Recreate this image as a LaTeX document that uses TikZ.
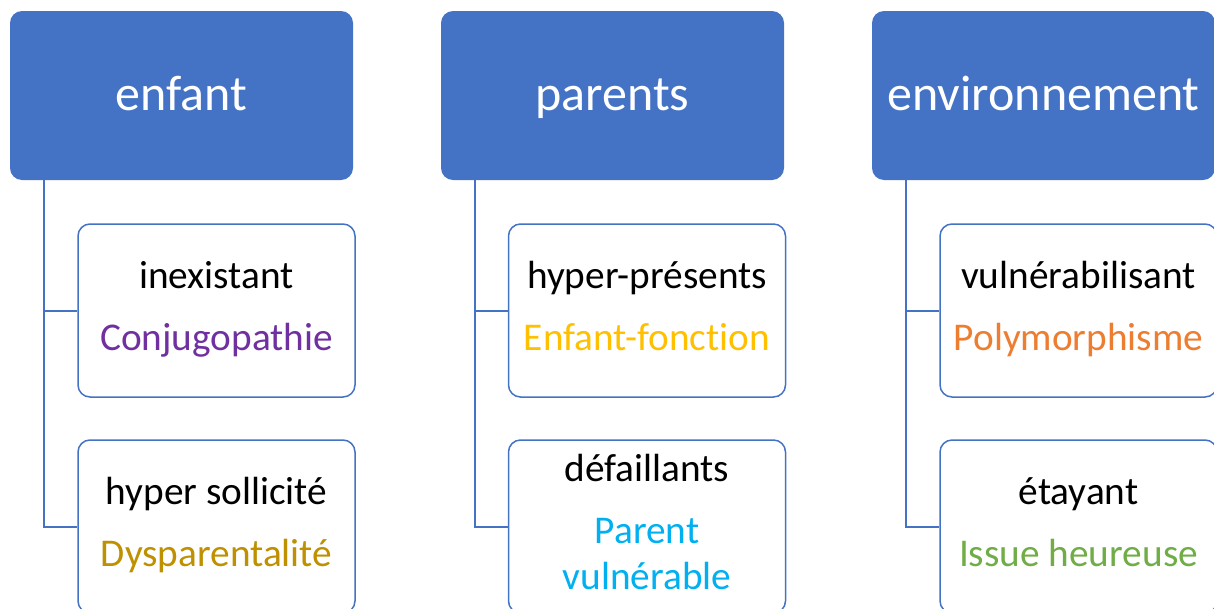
\documentclass[tikz,border=0pt]{standalone}
\usepackage{fontspec}
\setmainfont{Carlito}[Ligatures=NoCommon]
\definecolor{hdr}{HTML}{4472C4}
\definecolor{cpurple}{HTML}{7030A0}
\definecolor{cgold}{HTML}{BF9000}
\definecolor{cyellow}{HTML}{FFC000}
\definecolor{ccyan}{HTML}{00B0F0}
\definecolor{corange}{HTML}{ED7D31}
\definecolor{cgreen}{HTML}{70AD47}
\begin{document}
\begin{tikzpicture}[x=1pt,y=-1pt,
  header/.style={rectangle, rounded corners=12pt, fill=hdr, text=white,
    minimum width=343pt, minimum height=169pt, inner sep=0pt,
    text height=34pt, text depth=5pt,
    font=\fontsize{50}{60}\selectfont},
  child/.style={rectangle, rounded corners=12pt, draw=hdr, line width=1.5pt, fill=white,
    minimum width=277pt, minimum height=173pt, inner sep=0pt, align=center,
    font=\fontsize{39.3}{46}\selectfont},
  conn/.style={draw=hdr, line width=2pt}]
\useasboundingbox (0,0) rectangle (1214,608);
\clip (0,0) rectangle (1214,608);

\node[header] (h1) at (181.5,95.5) {enfant};
\node[header] (h2) at (612.5,95.5) {parents};
\node[header] (h3) at (1043.5,95.5) {environnement};

\node[child] (c11) at (216.5,310.5) {\strut inexistant\\[16pt]\strut\textcolor{cpurple}{Conjugopathie}};
\node[child] (c12) at (216.5,526.5) {\strut hyper sollicité\\[16pt]\strut\textcolor{cgold}{Dysparentalité}};
\node[child] (c21) at (647,310.5) {\strut hyper-présents\\[16pt]\strut\textcolor{cyellow}{Enfant-fonct\kern0pt ion}};
\node[child] (c22) at (647,526.5) {\strut défaillants\\[16pt]\strut\textcolor{ccyan}{Parent}\\\strut\textcolor{ccyan}{vulnérable}};
\node[child] (c31) at (1078.5,310.5) {\strut vulnérabilisant\\[16pt]\strut\textcolor{corange}{Polymorphisme}};
\node[child] (c32) at (1078.5,526.5) {\strut étayant\\[16pt]\strut\textcolor{cgreen}{Issue heureuse}};

\coordinate (t1) at ([xshift=34pt]h1.south west);
\coordinate (t2) at ([xshift=34pt]h2.south west);
\coordinate (t3) at ([xshift=34pt]h3.south west);

\draw[conn] (t1) |- (c11.west);
\draw[conn] (t1) |- (c12.west);
\draw[conn] (t2) |- (c21.west);
\draw[conn] (t2) |- (c22.west);
\draw[conn] (t3) |- (c31.west);
\draw[conn] (t3) |- (c32.west);
\end{tikzpicture}
\end{document}
